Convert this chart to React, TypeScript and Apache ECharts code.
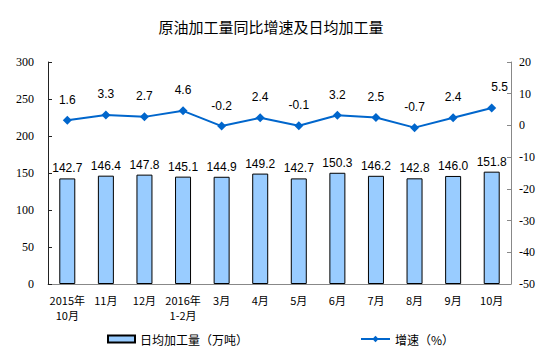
import React, { useEffect, useRef } from "react";
import * as echarts from "echarts";

const categories = ["2015年\n10月", "11月", "12月", "2016年\n1-2月", "3月", "4月", "5月", "6月", "7月", "8月", "9月", "10月"];
const dailyOutput = [142.7, 146.4, 147.8, 145.1, 144.9, 149.2, 142.7, 150.3, 146.2, 142.8, 146.0, 151.8];
const growth = [1.6, 3.3, 2.7, 4.6, -0.2, 2.4, -0.1, 3.2, 2.5, -0.7, 2.4, 5.5];
const barName = "日均加工量（万吨）";
const lineName = "增速（%）";

export default function App() {
  const ref = useRef<HTMLDivElement>(null);
  useEffect(() => {
    if (!ref.current) return;
    const chart = echarts.init(ref.current, null, { renderer: "svg" });
    const cjk = "'Noto Sans CJK SC', sans-serif";
    const num = "'Liberation Sans', Arial, sans-serif";
    chart.setOption({
      animation: false,
      backgroundColor: "#fff",
      title: {
        text: "原油加工量同比增速及日均加工量",
        left: 266,
        textAlign: "center",
        top: 14,
        textStyle: { fontFamily: cjk, fontSize: 15, fontWeight: "normal", color: "#000" },
      },
      legend: [
        {
          data: [barName],
          left: 102,
          top: 328,
          icon: "rect",
          itemWidth: 27,
          itemHeight: 7,
          itemGap: 5,
          textStyle: { fontFamily: cjk, fontSize: 12, color: "#000" },
        },
        {
          data: [lineName],
          left: 355,
          top: 328,
          itemWidth: 29,
          itemHeight: 8,
          textStyle: { fontFamily: cjk, fontSize: 12, color: "#000" },
        },
      ],
      grid: { left: 48, right: 43, top: 62, bottom: 69 },
      xAxis: {
        type: "category",
        data: categories,
        boundaryGap: true,
        axisLine: { lineStyle: { color: "#888", width: 1 } },
        axisTick: { inside: true, length: 4, lineStyle: { color: "#888" } },
        axisLabel: {
          interval: 0,
          margin: 8,
          lineHeight: 15,
          fontFamily: cjk,
          fontSize: 11,
          color: "#000",
        },
      },
      yAxis: [
        {
          type: "value",
          min: 0,
          max: 300,
          interval: 50,
          splitLine: { show: false },
          axisLine: { show: true, lineStyle: { color: "#222" } },
          axisTick: { show: true, inside: true, length: 4, lineStyle: { color: "#222" } },
          axisLabel: { fontFamily: "'Liberation Serif', serif", fontSize: 12, color: "#000", margin: 14 },
        },
        {
          type: "value",
          min: -50,
          max: 20,
          interval: 10,
          splitLine: { show: false },
          axisLine: { show: true, lineStyle: { color: "#888" } },
          axisTick: { show: true, inside: true, length: 4, lineStyle: { color: "#888" } },
          axisLabel: { fontFamily: "'Liberation Serif', serif", fontSize: 12, color: "#000", margin: 8 },
        },
      ],
      series: [
        {
          name: barName,
          type: "bar",
          yAxisIndex: 0,
          data: dailyOutput,
          barWidth: 16,
          itemStyle: { color: "#99CCFF", borderColor: "#000", borderWidth: 1 },
          label: {
            show: true,
            position: "top",
            distance: 4,
            fontFamily: num,
            fontSize: 12,
            color: "#000",
            formatter: (p: any) => p.value.toFixed(1),
          },
        },
        {
          name: lineName,
          type: "line",
          yAxisIndex: 1,
          data: growth.map((v, i) =>
            i === growth.length - 1 ? { value: v, label: { offset: [8, 0] } } : v
          ),
          symbol: "diamond",
          symbolSize: 9,
          lineStyle: { color: "#0066CC", width: 2 },
          itemStyle: { color: "#0066CC" },
          label: {
            show: true,
            position: "top",
            distance: 10,
            fontFamily: num,
            fontSize: 12,
            color: "#000",
            formatter: (p: any) => p.value.toFixed(1),
          },
        },
      ],
    });
    return () => chart.dispose();
  }, []);
  return (
    <div
      ref={ref}
      style={{ position: "fixed", left: 0, top: 0, width: 554, height: 353 }}
    />
  );
}
